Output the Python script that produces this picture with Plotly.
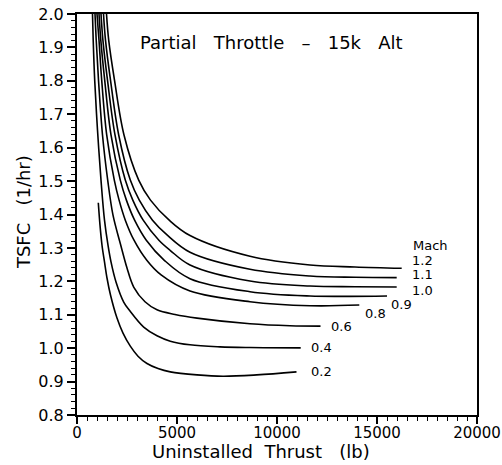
import plotly.graph_objects as go

# Uninstalled thrust (lb) and TSFC (1/hr) for each Mach number
mach_labels = ["0.2", "0.4", "0.6", "0.8", "0.9", "1.0", "1.1", "1.2"]

thrust_m02 = [1065, 1150, 1250, 1375, 1500, 1675, 2000, 2300, 2665, 3050, 3500, 4050, 4665, 6000, 7300, 8985, 10975]
tsfc_m02 = [1.435, 1.368, 1.308, 1.258, 1.210, 1.159, 1.090, 1.045, 1.006, 0.976, 0.954, 0.939, 0.929, 0.920, 0.916, 0.920, 0.929]

thrust_m04 = [775, 810, 885, 1025, 1200, 1375, 1550, 1700, 1950, 2335, 2650, 3335, 4000, 4665, 5650, 7150, 8650, 11185]
tsfc_m04 = [2.0, 1.922, 1.802, 1.653, 1.503, 1.383, 1.308, 1.258, 1.198, 1.138, 1.111, 1.063, 1.037, 1.021, 1.010, 1.004, 1.002, 1.001]

thrust_m06 = [900, 960, 1075, 1275, 1535, 1800, 2175, 2500, 2835, 3400, 4000, 4900, 6000, 8650, 10650, 12175]
tsfc_m06 = [2.0, 1.922, 1.802, 1.638, 1.503, 1.398, 1.311, 1.240, 1.183, 1.139, 1.115, 1.101, 1.090, 1.073, 1.067, 1.066]

thrust_m08 = [1000, 1100, 1235, 1485, 1865, 2105, 2415, 2850, 3490, 4205, 5650, 8650, 11650, 14115]
tsfc_m08 = [2.0, 1.922, 1.802, 1.638, 1.503, 1.443, 1.383, 1.323, 1.263, 1.219, 1.171, 1.139, 1.127, 1.129]

thrust_m09 = [1100, 1190, 1385, 1700, 2165, 2470, 2880, 3465, 4365, 5650, 8650, 11650, 13650, 15500]
tsfc_m09 = [2.0, 1.922, 1.802, 1.638, 1.503, 1.443, 1.383, 1.323, 1.263, 1.208, 1.169, 1.156, 1.155, 1.156]

thrust_m10 = [1200, 1295, 1525, 1900, 2415, 2790, 3310, 4095, 4655, 5650, 8650, 11650, 13900, 15985]
tsfc_m10 = [2.0, 1.922, 1.802, 1.638, 1.503, 1.443, 1.383, 1.323, 1.293, 1.249, 1.201, 1.186, 1.184, 1.183]

thrust_m11 = [1325, 1425, 1675, 2085, 2665, 3115, 3775, 4515, 5650, 8650, 11650, 13900, 15985]
tsfc_m11 = [2.0, 1.922, 1.802, 1.638, 1.503, 1.443, 1.383, 1.338, 1.287, 1.236, 1.216, 1.212, 1.211]

thrust_m12 = [1475, 1585, 1875, 2350, 3085, 3675, 4610, 5650, 8650, 11650, 13900, 16235]
tsfc_m12 = [2.0, 1.922, 1.802, 1.638, 1.503, 1.443, 1.383, 1.337, 1.275, 1.249, 1.243, 1.239]

# label anchor positions (data coords)
label_x = [12233, 12233, 13233, 14900, 16233, 17283, 17283, 17283]
label_y = [0.929, 1.002, 1.064, 1.104, 1.132, 1.172, 1.219, 1.261]

x_ticks = [0, 5000, 10000, 15000, 20000]
y_ticks = [0.8, 0.9, 1.0, 1.1, 1.2, 1.3, 1.4, 1.5, 1.6, 1.7, 1.8, 1.9, 2.0]

series = [
    (thrust_m02, tsfc_m02), (thrust_m04, tsfc_m04), (thrust_m06, tsfc_m06),
    (thrust_m08, tsfc_m08), (thrust_m09, tsfc_m09), (thrust_m10, tsfc_m10),
    (thrust_m11, tsfc_m11), (thrust_m12, tsfc_m12),
]

FONT = "DejaVu Sans"
NB = "\u00a0"
fig = go.Figure()
for (xs, ys), name in zip(series, mach_labels):
    fig.add_trace(go.Scatter(
        x=xs, y=ys, mode="lines", name=name,
        line=dict(color="black", width=1.6, shape="spline", smoothing=1.0),
        showlegend=False, hoverinfo="skip",
    ))

for lx, ly, t in zip(label_x, label_y, mach_labels):
    fig.add_annotation(x=lx, y=ly, text=t, showarrow=False, xanchor="center",
                       yanchor="middle", font=dict(family=FONT, size=13, color="black"))

fig.add_annotation(x=17650, y=1.308, text="Mach", showarrow=False, xanchor="center",
                   yanchor="middle", font=dict(family=FONT, size=13, color="black"))

fig.add_annotation(x=9700, y=1.916,
                   text=f"Partial{NB*3}Throttle{NB*3}–{NB*3}15k{NB*3}Alt",
                   showarrow=False, xanchor="center", yanchor="middle",
                   font=dict(family=FONT, size=18, color="black"))

# axis titles
fig.add_annotation(xref="paper", yref="paper", x=0.46, y=-0.092,
                   text=f"Uninstalled{NB*2}Thrust{NB*3}(lb)", showarrow=False,
                   xanchor="center", yanchor="middle",
                   font=dict(family=FONT, size=18, color="black"))
fig.add_annotation(xref="paper", yref="paper", x=-0.135, y=0.506,
                   text=f"TSFC{NB*3}(1/hr)", showarrow=False, textangle=-90,
                   xanchor="center", yanchor="middle",
                   font=dict(family=FONT, size=18, color="black"))

fig.update_layout(
    width=502, height=465,
    margin=dict(l=77, r=25, t=14, b=50),
    paper_bgcolor="white", plot_bgcolor="white",
    font=dict(family=FONT, color="black"),
)
fig.update_xaxes(
    range=[0, 20000], tickvals=x_ticks, ticktext=[str(v) for v in x_ticks],
    ticks="outside", ticklen=7, tickwidth=1.5, tickcolor="black",
    minor=dict(dtick=500, ticks="outside", ticklen=4, tickwidth=1.2, tickcolor="black"),
    showline=True, linecolor="black", linewidth=2, mirror=True,
    showgrid=False, zeroline=False, automargin=False,
    tickfont=dict(family=FONT, size=15), ticklabelstandoff=-4,
)
fig.update_yaxes(
    range=[0.8, 2.0], tickvals=y_ticks, ticktext=[f"{v:.1f}" for v in y_ticks],
    ticks="outside", ticklen=8, tickwidth=1.5, tickcolor="black",
    minor=dict(dtick=0.02, ticks="outside", ticklen=4, tickwidth=1.2, tickcolor="black"),
    showline=True, linecolor="black", linewidth=2, mirror=True,
    showgrid=False, zeroline=False, automargin=False,
    tickfont=dict(family=FONT, size=16),
)

fig.write_html(
    "out.html",
    config={"displayModeBar": False},
    post_script="document.body.style.margin='0';document.body.style.padding='0';",
)
